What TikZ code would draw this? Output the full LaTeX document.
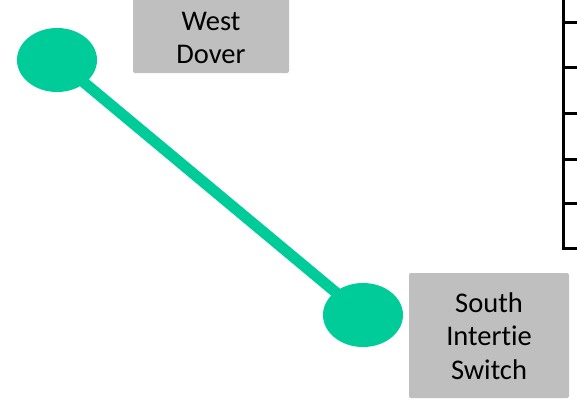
\documentclass[tikz,border=0pt]{standalone}
\usepackage{fontspec}
\setmainfont[Ligatures={NoCommon}]{Carlito}
\usetikzlibrary{shapes.geometric,backgrounds}
\definecolor{linkgreen}{RGB}{0,204,153}
\definecolor{labelgray}{RGB}{191,191,191}
\tikzset{
  stopdot/.style={ellipse, fill=linkgreen, draw=none, inner sep=0pt,
    minimum width=80pt, minimum height=64pt},
  labelbox/.style={rectangle, fill=labelgray, draw=none, rounded corners=2pt, inner sep=0pt},
  labeltext/.style={align=center, inner sep=0pt, font=\fontsize{28.5}{33.5}\selectfont},
  link/.style={linkgreen, line width=11pt},
  grid/.style={black, line width=3pt}
}
\begin{document}
\begin{tikzpicture}[x=1pt, y=-1pt]
  \useasboundingbox (0,0) rectangle (577,405);

  % stations
  \node[stopdot] (westdot) at (57,60) {};
  \node[stopdot] (southdot) at (363,315) {};

  % line between the stations
  \begin{pgfonlayer}{background}
    \draw[link] (westdot.center) -- (southdot.center);
  \end{pgfonlayer}

  % labels
  \node[labelbox, minimum width=156pt, minimum height=86pt] (westbox) at (211,30) {};
  \node[labeltext] (westlabel) at (211,38) {West\\Dover};

  \node[labelbox, minimum width=160pt, minimum height=125pt] (southbox) at (489,335.5) {};
  \node[labeltext] (southlabel) at (489,336) {South\\Intertie\\Switch};

  % edge of the table on the right
  \draw[grid] (563,-5) -- (563,248) -- (580,248);
  \foreach \yy in {22,67,113,159,203}
    \draw[grid] (563,\yy) -- (580,\yy);
\end{tikzpicture}
\end{document}
